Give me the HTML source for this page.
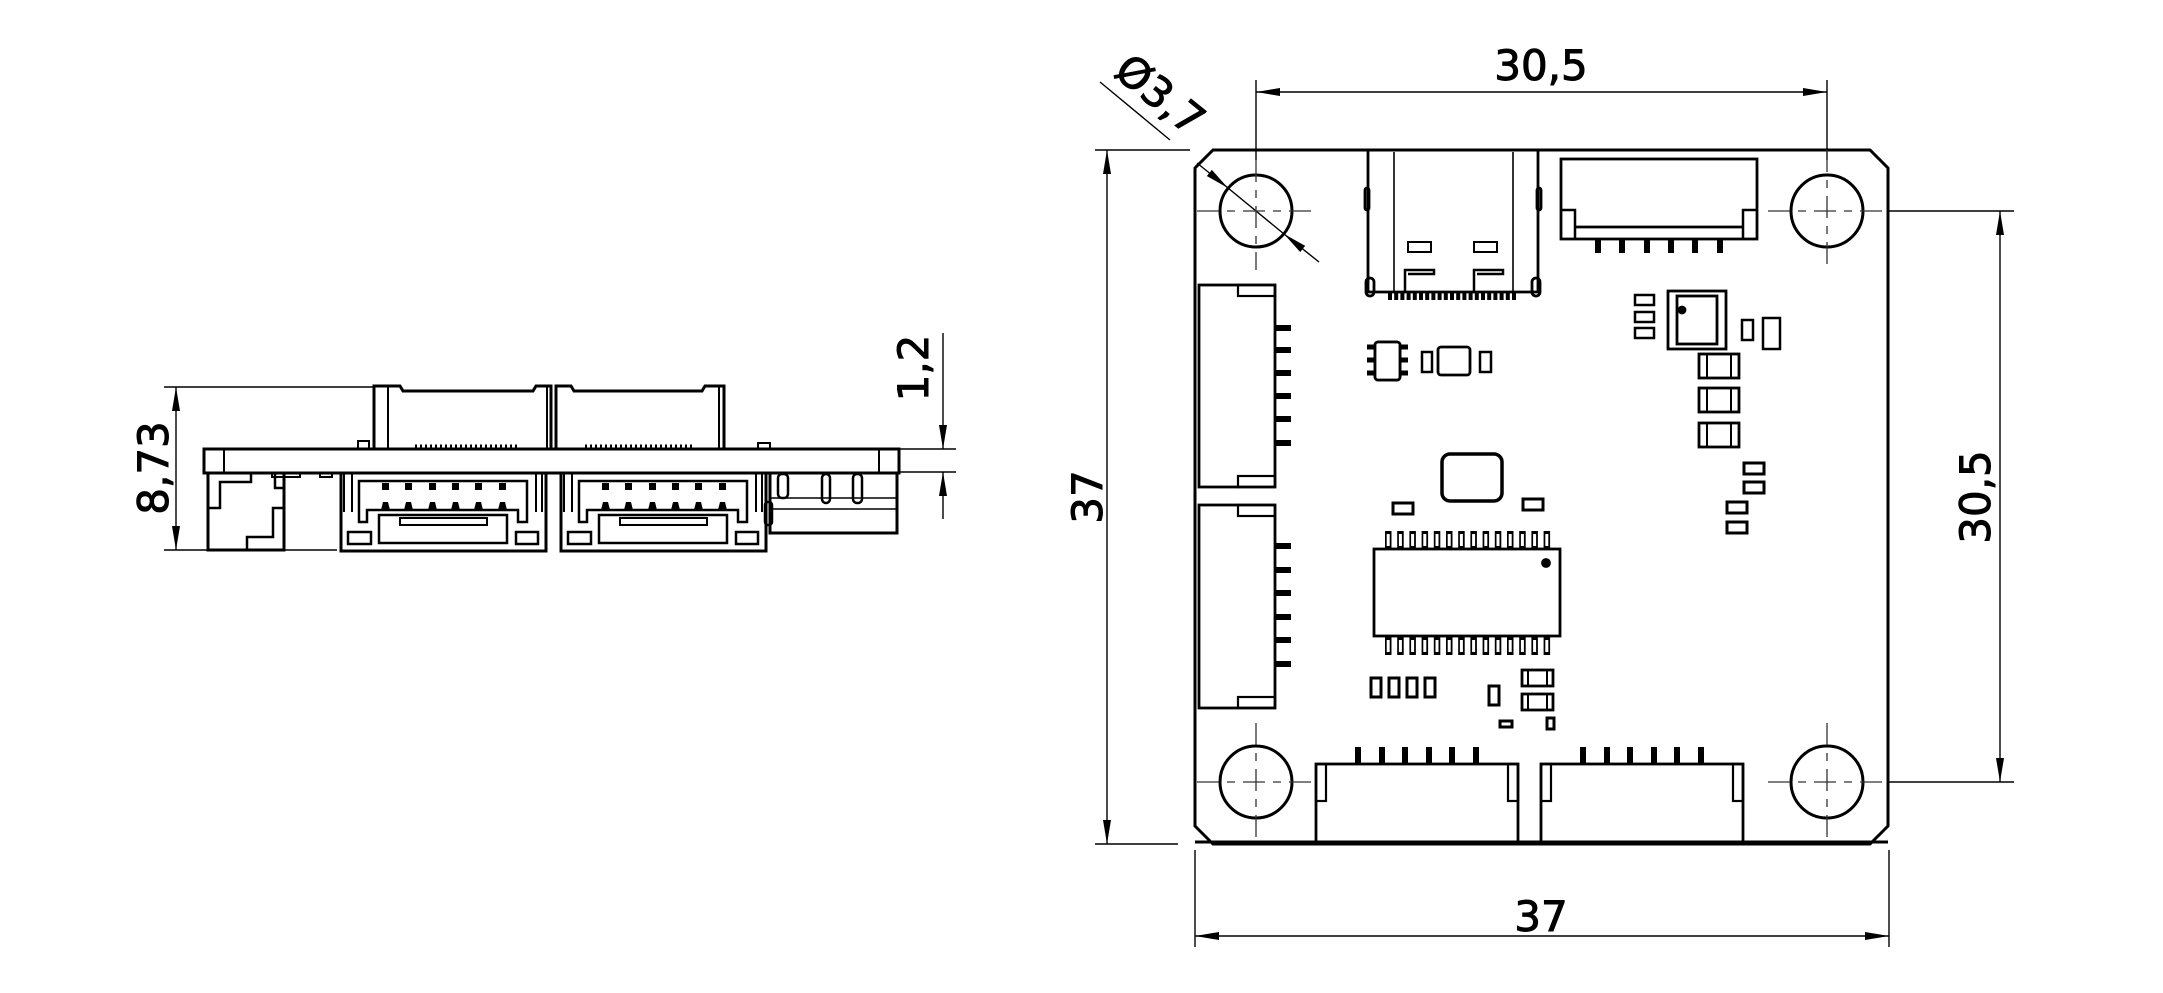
<!DOCTYPE html>
<html><head><meta charset="utf-8"><style>
html,body{margin:0;padding:0;background:#fff;}
svg{display:block;}
text{font-family:"DejaVu Sans","Liberation Sans",sans-serif;font-size:42px;fill:#000;}
</style></head><body>
<svg width="2163" height="993" viewBox="0 0 2163 993" xmlns="http://www.w3.org/2000/svg">
<defs>
<marker id="a" viewBox="0 0 24 8" refX="24" refY="4" markerWidth="24" markerHeight="8" markerUnits="userSpaceOnUse" orient="auto-start-reverse"><path d="M0,0 L24,4 L0,8 z" fill="#000"/></marker>
</defs>
<g fill="none" stroke="#000">
<!-- ============ LEFT VIEW ============ -->
<g stroke-width="1.4">
<line x1="164" y1="387" x2="373" y2="387"/>
<line x1="164" y1="550" x2="337" y2="550"/>
<line x1="176" y1="387" x2="176" y2="550" marker-start="url(#a)" marker-end="url(#a)"/>
<line x1="899" y1="449" x2="956" y2="449"/>
<line x1="899" y1="472" x2="956" y2="472"/>
<line x1="943" y1="333" x2="943" y2="449" marker-end="url(#a)"/>
<line x1="943" y1="519" x2="943" y2="472" marker-end="url(#a)"/>
</g>
<g stroke-width="3">
<!-- slab -->
<rect x="204" y="449" width="695" height="24"/>
<line x1="224" y1="449" x2="224" y2="473" stroke-width="2"/>
<line x1="879" y1="449" x2="879" y2="473" stroke-width="2"/>
<!-- tall connectors -->
<path d="M374,449 V386 H400 L403,391 H533 L536,386 H551 V449"/>
<line x1="388" y1="386" x2="388" y2="449" stroke-width="2"/>
<line x1="547" y1="386" x2="547" y2="449" stroke-width="2"/>
<path d="M556,449 V386 H571 L574,391 H702 L705,386 H724 V449"/>
<line x1="719" y1="386" x2="719" y2="449" stroke-width="2"/>
<line x1="551" y1="386" x2="551" y2="449" stroke-width="2"/>
<line x1="415" y1="446" x2="520" y2="446" stroke-width="3" stroke-dasharray="2 3"/>
<line x1="585" y1="446" x2="693" y2="446" stroke-width="3" stroke-dasharray="2 3"/>
<rect x="358" y="441" width="11" height="8" stroke-width="2"/>
<rect x="758" y="443" width="12" height="6" stroke-width="2"/>
<!-- left block -->
<rect x="208" y="473" width="76" height="77"/>
<path d="M251,473 V482 H220 V508 H208" stroke-width="2.5"/>
<path d="M275,473 V488 H284" stroke-width="2.5"/>
<path d="M284,508 H273 V537 H247 V550" stroke-width="2.5"/>
<rect x="272" y="473" width="28" height="4" stroke-width="2"/>
<rect x="320" y="473" width="12" height="4" stroke-width="2"/>
<!-- big connectors -->
<g id="bc">
<rect x="341" y="473" width="205" height="78"/>
<line x1="344" y1="473" x2="344" y2="512" stroke-width="2"/>
<line x1="352" y1="473" x2="352" y2="512" stroke-width="2"/>
<line x1="536" y1="473" x2="536" y2="512" stroke-width="2"/>
<line x1="542" y1="473" x2="542" y2="512" stroke-width="2"/>
<path d="M359,481 H527 V522 H518 V510 H367 V522 H359 Z" stroke-width="2.5"/>
<rect x="379" y="515" width="128" height="28" stroke-width="2.5"/>
<rect x="400" y="518" width="87" height="7" stroke-width="2"/>
<rect x="348" y="532" width="23" height="12" stroke-width="2.5"/>
<rect x="516" y="532" width="22" height="12" stroke-width="2.5"/>
<g fill="#000" stroke="none">
<rect x="382" y="483" width="7" height="7"/><rect x="405" y="483" width="7" height="7"/><rect x="429" y="483" width="7" height="7"/><rect x="452" y="483" width="7" height="7"/><rect x="475" y="483" width="7" height="7"/><rect x="499" y="483" width="7" height="7"/>
<path d="M381,510 L383,502 H388 L390,510Z M404,510 L406,502 H411 L413,510Z M428,510 L430,502 H435 L437,510Z M451,510 L453,502 H458 L460,510Z M474,510 L476,502 H481 L483,510Z M498,510 L500,502 H505 L507,510Z"/>
</g>
</g>
<use href="#bc" transform="translate(220,0)"/>
<!-- right small stuff -->
<path d="M770,473 V533 H897 V473"/>
<line x1="770" y1="498" x2="897" y2="498" stroke-width="1.5"/>
<line x1="770" y1="509" x2="897" y2="509" stroke-width="1.5"/>
<rect x="778" y="474" width="10" height="24" rx="4" stroke-width="2.5"/>
<rect x="822" y="474" width="8" height="29" rx="4" stroke-width="2.5"/>
<rect x="853" y="474" width="9" height="29" rx="4" stroke-width="2.5"/>
<rect x="765" y="502" width="7" height="23" rx="3" stroke-width="2.5"/>
</g>
<!-- ============ RIGHT VIEW ============ -->
<!-- dims -->
<g stroke-width="1.4">
<line x1="1256" y1="80" x2="1256" y2="160"/>
<line x1="1827" y1="80" x2="1827" y2="160"/>
<line x1="1256" y1="92" x2="1827" y2="92" marker-start="url(#a)" marker-end="url(#a)"/>
<line x1="1889" y1="211" x2="2014" y2="211"/>
<line x1="1889" y1="782" x2="2014" y2="782"/>
<line x1="2000" y1="211" x2="2000" y2="782" marker-start="url(#a)" marker-end="url(#a)"/>
<line x1="1095" y1="150" x2="1190" y2="150"/>
<line x1="1095" y1="844" x2="1178" y2="844"/>
<line x1="1107" y1="150" x2="1107" y2="844" marker-start="url(#a)" marker-end="url(#a)"/>
<line x1="1195" y1="850" x2="1195" y2="947"/>
<line x1="1889" y1="850" x2="1889" y2="947"/>
<line x1="1195" y1="936" x2="1889" y2="936" marker-start="url(#a)" marker-end="url(#a)"/>
<line x1="1100" y1="82" x2="1170" y2="140"/>
<line x1="1197" y1="163" x2="1228" y2="188" marker-end="url(#a)"/>
<line x1="1319" y1="262" x2="1284" y2="234" marker-end="url(#a)"/>
<line x1="1228" y1="188" x2="1284" y2="234"/>
</g>
<!-- board -->
<path d="M1213,150 H1870 L1888,168 V826 L1870,844 H1213 L1195,826 V168 Z" stroke-width="3"/>
<!-- holes -->
<g stroke-width="3">
<circle cx="1256" cy="211" r="36"/><circle cx="1827" cy="211" r="36"/>
<circle cx="1256" cy="782" r="36"/><circle cx="1827" cy="782" r="36"/>
</g>
<g stroke-width="1.3" stroke="#333" stroke-dasharray="22 8 8 8">
<line x1="1197" y1="211" x2="1315" y2="211"/><line x1="1768" y1="211" x2="1889" y2="211"/>
<line x1="1197" y1="782" x2="1315" y2="782"/><line x1="1768" y1="782" x2="1889" y2="782"/>
<line x1="1256" y1="160" x2="1256" y2="270"/><line x1="1827" y1="150" x2="1827" y2="270"/>
<line x1="1256" y1="723" x2="1256" y2="841"/><line x1="1827" y1="723" x2="1827" y2="841"/>
</g>
<g stroke-width="2.8">
<!-- USB-C -->
<path d="M1368,150 V292 H1538 V150"/>
<line x1="1394" y1="152" x2="1394" y2="292" stroke-width="1.6"/>
<line x1="1513" y1="152" x2="1513" y2="292" stroke-width="1.6"/>
<rect x="1365" y="188" width="4" height="22" rx="2"/><rect x="1537" y="188" width="4" height="22" rx="2"/>
<rect x="1366" y="278" width="8" height="18" rx="4"/><rect x="1532" y="278" width="8" height="18" rx="4"/>
<line x1="1388" y1="296" x2="1518" y2="296" stroke-width="8" stroke-dasharray="4 2.2"/>
<rect x="1408" y="242" width="23" height="10" stroke-width="2"/><rect x="1474" y="242" width="23" height="10" stroke-width="2"/>
<path d="M1405,292 V270 H1434 V274 H1408" stroke-width="2.5"/>
<path d="M1474,292 V270 H1503 V274 H1477" stroke-width="2.5"/>
<!-- top right connector -->
<rect x="1561" y="159" width="196" height="80"/>
<line x1="1575" y1="227" x2="1743" y2="227"/>
<path d="M1575,239 V210 H1561 M1743,239 V210 H1757" stroke-width="2.5"/>
<g stroke-width="6"><line x1="1598" y1="239" x2="1598" y2="253"/><line x1="1622" y1="239" x2="1622" y2="253"/><line x1="1647" y1="239" x2="1647" y2="253"/><line x1="1671" y1="239" x2="1671" y2="253"/><line x1="1695" y1="239" x2="1695" y2="253"/><line x1="1720" y1="239" x2="1720" y2="253"/></g>
<!-- left connectors -->
<rect x="1199" y="285" width="76" height="202"/>
<rect x="1238" y="285" width="37" height="11" stroke-width="2.2"/>
<rect x="1238" y="476" width="37" height="11" stroke-width="2.2"/>
<rect x="1199" y="505" width="76" height="203"/>
<rect x="1238" y="505" width="37" height="11" stroke-width="2.2"/>
<rect x="1238" y="697" width="37" height="11" stroke-width="2.2"/>
<g stroke-width="6">
<line x1="1275" y1="328" x2="1291" y2="328"/><line x1="1275" y1="350" x2="1291" y2="350"/><line x1="1275" y1="373" x2="1291" y2="373"/><line x1="1275" y1="396" x2="1291" y2="396"/><line x1="1275" y1="419" x2="1291" y2="419"/><line x1="1275" y1="443" x2="1291" y2="443"/>
<line x1="1275" y1="546" x2="1291" y2="546"/><line x1="1275" y1="570" x2="1291" y2="570"/><line x1="1275" y1="593" x2="1291" y2="593"/><line x1="1275" y1="617" x2="1291" y2="617"/><line x1="1275" y1="640" x2="1291" y2="640"/><line x1="1275" y1="664" x2="1291" y2="664"/>
</g>
<!-- bottom connectors -->
<rect x="1316" y="764" width="202" height="79"/>
<rect x="1316" y="764" width="10" height="37" stroke-width="2.2"/><rect x="1508" y="764" width="10" height="37" stroke-width="2.2"/>
<rect x="1541" y="764" width="202" height="79"/>
<rect x="1541" y="764" width="10" height="37" stroke-width="2.2"/><rect x="1733" y="764" width="10" height="37" stroke-width="2.2"/>
<g stroke-width="6">
<line x1="1358" y1="747" x2="1358" y2="764"/><line x1="1382" y1="747" x2="1382" y2="764"/><line x1="1405" y1="747" x2="1405" y2="764"/><line x1="1429" y1="747" x2="1429" y2="764"/><line x1="1452" y1="747" x2="1452" y2="764"/><line x1="1476" y1="747" x2="1476" y2="764"/>
<line x1="1583" y1="747" x2="1583" y2="764"/><line x1="1607" y1="747" x2="1607" y2="764"/><line x1="1630" y1="747" x2="1630" y2="764"/><line x1="1654" y1="747" x2="1654" y2="764"/><line x1="1677" y1="747" x2="1677" y2="764"/><line x1="1701" y1="747" x2="1701" y2="764"/>
</g>
<line x1="1195" y1="842" x2="1888" y2="842" stroke-width="3"/>
<!-- SOIC8 small -->
<rect x="1375" y="342" width="25" height="38" rx="3"/>
<g stroke-width="5"><line x1="1367" y1="347" x2="1408" y2="347"/><line x1="1367" y1="360" x2="1408" y2="360"/><line x1="1367" y1="373" x2="1408" y2="373"/></g>
<rect x="1375" y="342" width="25" height="38" rx="3" fill="#fff"/>
<rect x="1422" y="352" width="10" height="20" stroke-width="2.5"/>
<rect x="1438" y="347" width="32" height="28" rx="3"/>
<rect x="1480" y="352" width="11" height="20" stroke-width="2.5"/>
<!-- sensor area -->
<rect x="1635" y="295" width="19" height="10" stroke-width="2.5"/>
<rect x="1635" y="312" width="19" height="10" stroke-width="2.5"/>
<rect x="1635" y="328" width="19" height="10" stroke-width="2.5"/>
<rect x="1668" y="291" width="58" height="58"/>
<rect x="1677" y="296" width="40" height="48"/>
<circle cx="1682" cy="310" r="3" fill="#000"/>
<rect x="1742" y="320" width="11" height="20" stroke-width="2.5"/>
<rect x="1763" y="318" width="17" height="31" stroke-width="2.5"/>
<rect x="1699" y="354" width="40" height="24"/><rect x="1699" y="388" width="40" height="24"/><rect x="1699" y="423" width="40" height="24"/>
<g stroke-width="2"><line x1="1707" y1="354" x2="1707" y2="378"/><line x1="1731" y1="354" x2="1731" y2="378"/><line x1="1707" y1="388" x2="1707" y2="412"/><line x1="1731" y1="388" x2="1731" y2="412"/><line x1="1707" y1="423" x2="1707" y2="447"/><line x1="1731" y1="423" x2="1731" y2="447"/></g>
<rect x="1744" y="463" width="20" height="11" stroke-width="3"/>
<rect x="1744" y="482" width="20" height="11" stroke-width="3"/>
<rect x="1727" y="502" width="20" height="11" stroke-width="3"/>
<rect x="1727" y="522" width="20" height="11" stroke-width="3"/>
<!-- QFN -->
<rect x="1442" y="454" width="60" height="47" rx="8" stroke-width="3.5"/>
<rect x="1393" y="503" width="20" height="11" stroke-width="3"/>
<rect x="1523" y="499" width="20" height="11" stroke-width="3"/>
<!-- main IC -->
<rect x="1374" y="549" width="186" height="87"/>
<circle cx="1546" cy="563" r="3.5" fill="#000"/>
<line x1="1385" y1="540" x2="1552" y2="540" stroke-width="18" stroke-dasharray="6.5 5.7"/>
<line x1="1385" y1="646" x2="1552" y2="646" stroke-width="18" stroke-dasharray="6.5 5.7"/>
<line x1="1385" y1="540" x2="1552" y2="540" stroke-width="12" stroke-dasharray="0 1.7 3 7.5" stroke="#fff"/>
<line x1="1385" y1="646" x2="1552" y2="646" stroke-width="12" stroke-dasharray="0 1.7 3 7.5" stroke="#fff"/>
<!-- bottom smalls -->
<rect x="1371" y="678" width="10" height="19" stroke-width="3"/>
<rect x="1389" y="678" width="10" height="19" stroke-width="3"/>
<rect x="1407" y="678" width="10" height="19" stroke-width="3"/>
<rect x="1425" y="678" width="10" height="19" stroke-width="3"/>
<rect x="1489" y="686" width="10" height="19" stroke-width="3"/>
<rect x="1522" y="670" width="31" height="16"/><rect x="1522" y="694" width="31" height="16"/>
<g stroke-width="2"><line x1="1528" y1="670" x2="1528" y2="686"/><line x1="1547" y1="670" x2="1547" y2="686"/><line x1="1528" y1="694" x2="1528" y2="710"/><line x1="1547" y1="694" x2="1547" y2="710"/></g>
<rect x="1500" y="721" width="12" height="6" stroke-width="3"/>
<rect x="1547" y="718" width="7" height="11" stroke-width="3"/>
</g>
<!-- labels -->
<text x="1541" y="80" text-anchor="middle">30,5</text>
<text x="1541" y="931" text-anchor="middle">37</text>
<text transform="translate(1990,497) rotate(-90)" text-anchor="middle">30,5</text>
<text transform="translate(1102,497) rotate(-90)" text-anchor="middle">37</text>
<text transform="translate(168,468) rotate(-90)" text-anchor="middle">8,73</text>
<text transform="translate(928,368) rotate(-90)" text-anchor="middle">1,2</text>
<text transform="translate(1151,106) rotate(39)" text-anchor="middle">Ø3,7</text>
</svg>
</body></html>
